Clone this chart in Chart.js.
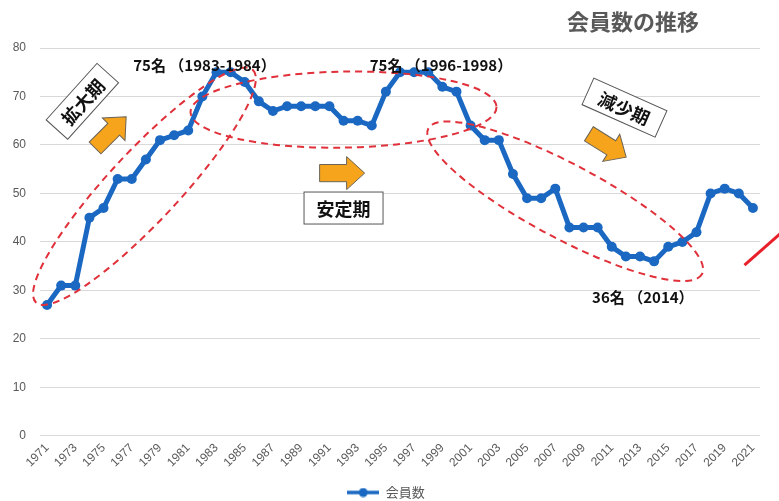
<!DOCTYPE html>
<html>
<head>
<meta charset="utf-8">
<script src="https://cdn.jsdelivr.net/npm/chart.js@4.4.1/dist/chart.umd.min.js"></script>
<style>
  html, body { margin: 0; padding: 0; background: #fff; }
  #wrap { width: 779px; height: 501px; }
</style>
</head>
<body>
<div id="wrap"><canvas id="chart"></canvas></div>
<script>
// データ
const years = ['1971','1972','1973','1974','1975','1976','1977','1978','1979','1980',
  '1981','1982','1983','1984','1985','1986','1987','1988','1989','1990',
  '1991','1992','1993','1994','1995','1996','1997','1998','1999','2000',
  '2001','2002','2003','2004','2005','2006','2007','2008','2009','2010',
  '2011','2012','2013','2014','2015','2016','2017','2018','2019','2020','2021'];
const members = [27,31,31,45,47,53,53,57,61,62,
  63,70,75,75,73,69,67,68,68,68,
  68,65,65,64,71,75,75,75,72,71,
  64,61,61,54,49,49,51,43,43,43,
  39,37,37,36,39,40,42,50,51,50,47];
const yTicks = [0,10,20,30,40,50,60,70,80];
const seriesName = '会員数';
const chartTitle = '会員数の推移';

// 注釈 (x = 年のインデックス, y = 人数)
const ellipses = [
  { x: 6.9, y: 51.5, rx: 159, ry: 35, rot: -47 },
  { x: 21.0, y: 67.3, rx: 153, ry: 38, rot: -1 },
  { x: 36.7, y: 48.4, rx: 155, ry: 37, rot: 28 }
];
const arrows = [
  { x: 4.5, y: 62.6, len: 44, h: 32, rot: -45 },
  { x: 20.9, y: 54.2, len: 45, h: 33, rot: 0 },
  { x: 39.7, y: 59.9, len: 44, h: 32, rot: 32 }
];
const boxes = [
  { x: 2.5, y: 69.0, w: 76, h: 29, rot: -48, text: '拡大期' },
  { x: 21.0, y: 47.0, w: 79, h: 32, rot: 0, text: '安定期' },
  { x: 40.9, y: 67.7, w: 80, h: 29, rot: 24, text: '減少期' }
];
const notes = [
  { x: 11.15, y: 76.5, text: '75名 （1983-1984）' },
  { x: 27.9, y: 76.5, text: '75名 （1996-1998）' },
  { x: 42.2, y: 28.5, text: '36名 （2014）' }
];
const redArrow = { x1: 49.4, y1: 35.2, x2: 52.6, y2: 43.4 };

const jpFont = '"Noto Sans CJK JP", "Noto Sans", sans-serif';
const blue = '#1a68c2';

// 凡例マーカー (線 + 丸)
const legendMark = document.createElement('canvas');
legendMark.width = 32;
legendMark.height = 10;
(() => {
  const c = legendMark.getContext('2d');
  c.strokeStyle = blue;
  c.lineWidth = 3.5;
  c.beginPath(); c.moveTo(0, 5); c.lineTo(32, 5); c.stroke();
  c.fillStyle = blue;
  c.beginPath(); c.arc(16, 5, 4.5, 0, Math.PI * 2); c.fill();
})();

function blockArrow(ctx, cx, cy, len, h, rot) {
  const hl = len * 0.4, bw = h * 0.26, hw = h / 2;
  ctx.save();
  ctx.translate(cx, cy);
  ctx.rotate(rot * Math.PI / 180);
  ctx.beginPath();
  ctx.moveTo(-len / 2, -bw);
  ctx.lineTo(len / 2 - hl, -bw);
  ctx.lineTo(len / 2 - hl, -hw);
  ctx.lineTo(len / 2, 0);
  ctx.lineTo(len / 2 - hl, hw);
  ctx.lineTo(len / 2 - hl, bw);
  ctx.lineTo(-len / 2, bw);
  ctx.closePath();
  ctx.fillStyle = '#f5a41c';
  ctx.fill();
  ctx.strokeStyle = '#6b6356';
  ctx.lineWidth = 1;
  ctx.stroke();
  ctx.restore();
}

const annotatePlugin = {
  id: 'annotate',
  afterDatasetsDraw(chart) {
    const ctx = chart.ctx;
    const xs = chart.scales.x, ys = chart.scales.y;
    const px = v => xs.getPixelForValue(v);
    const py = v => ys.getPixelForValue(v);

    // 点線の楕円
    ctx.save();
    ctx.strokeStyle = '#e0303a';
    ctx.lineWidth = 2;
    ctx.setLineDash([7, 5]);
    ellipses.forEach(e => {
      ctx.beginPath();
      ctx.ellipse(px(e.x), py(e.y), e.rx, e.ry, e.rot * Math.PI / 180, 0, Math.PI * 2);
      ctx.stroke();
    });
    ctx.restore();

    // オレンジの矢印
    arrows.forEach(a => blockArrow(ctx, px(a.x), py(a.y), a.len, a.h, a.rot));

    // 枠付きラベル
    boxes.forEach(b => {
      ctx.save();
      ctx.translate(px(b.x), py(b.y));
      ctx.rotate(b.rot * Math.PI / 180);
      ctx.fillStyle = '#fff';
      ctx.strokeStyle = '#555';
      ctx.lineWidth = 1;
      ctx.fillRect(-b.w / 2, -b.h / 2, b.w, b.h);
      ctx.strokeRect(-b.w / 2, -b.h / 2, b.w, b.h);
      ctx.fillStyle = '#111';
      ctx.font = 'bold 18px ' + jpFont;
      ctx.textAlign = 'center';
      ctx.textBaseline = 'middle';
      ctx.fillText(b.text, 0, 1);
      ctx.restore();
    });

    // 注記
    ctx.save();
    ctx.fillStyle = '#111';
    ctx.font = 'bold 15px ' + jpFont;
    ctx.textAlign = 'center';
    ctx.textBaseline = 'middle';
    notes.forEach(n => ctx.fillText(n.text, px(n.x), py(n.y)));
    ctx.restore();

    // 右端の赤い矢印
    ctx.save();
    const x1 = px(redArrow.x1), y1 = py(redArrow.y1);
    const x2 = px(redArrow.x2), y2 = py(redArrow.y2);
    const ang = Math.atan2(y2 - y1, x2 - x1);
    ctx.strokeStyle = '#e8202a';
    ctx.fillStyle = '#e8202a';
    ctx.lineWidth = 3;
    ctx.beginPath(); ctx.moveTo(x1, y1); ctx.lineTo(x2, y2); ctx.stroke();
    ctx.translate(x2, y2); ctx.rotate(ang);
    ctx.beginPath(); ctx.moveTo(6, 0); ctx.lineTo(-8, -7); ctx.lineTo(-8, 7); ctx.closePath(); ctx.fill();
    ctx.restore();

    // タイトル
    ctx.save();
    ctx.fillStyle = '#595959';
    ctx.font = 'bold 22px ' + jpFont;
    ctx.textAlign = 'center';
    ctx.textBaseline = 'middle';
    ctx.fillText(chartTitle, chart.width - 146, 22);
    ctx.restore();
  }
};

new Chart(document.getElementById('chart'), {
  type: 'line',
  data: {
    labels: years,
    datasets: [{
      label: seriesName,
      data: members,
      borderColor: blue,
      backgroundColor: blue,
      borderWidth: 5,
      pointRadius: 5,
      pointHoverRadius: 5,
      pointBackgroundColor: blue,
      pointBorderWidth: 0,
      tension: 0
    }]
  },
  options: {
    responsive: true,
    maintainAspectRatio: false,
    animation: false,
    layout: { padding: { left: 12, right: 19, top: 48, bottom: -8 } },
    scales: {
      x: {
        offset: true,
        grid: { display: false, drawTicks: false },
        border: { display: false },
        afterFit: axis => { axis.paddingLeft = 0; axis.paddingRight = 0; axis.height += 8; },
        ticks: {
          autoSkip: false,
          minRotation: 45,
          maxRotation: 45,
          padding: 5,
          color: '#595959',
          font: { family: '"Liberation Sans", Arial, sans-serif', size: 12 },
          callback: (v, i) => (i % 2 === 0 ? years[i] : '')
        }
      },
      y: {
        min: 0,
        max: 80,
        afterBuildTicks: axis => { axis.ticks = yTicks.map(v => ({ value: v })); },
        afterFit: axis => { axis.width = 28; },
        grid: { color: '#d9d9d9', drawTicks: false },
        border: { display: false },
        ticks: {
          padding: 14,
          color: '#595959',
          font: { family: '"Liberation Sans", Arial, sans-serif', size: 12 }
        }
      }
    },
    plugins: {
      legend: {
        position: 'bottom',
        labels: {
          usePointStyle: true,
          pointStyle: legendMark,
          pointStyleWidth: 32,
          color: '#595959',
          font: { family: jpFont, size: 13 },
          padding: 3
        }
      },
      tooltip: { enabled: false }
    }
  },
  plugins: [annotatePlugin]
});
</script>
</body>
</html>
